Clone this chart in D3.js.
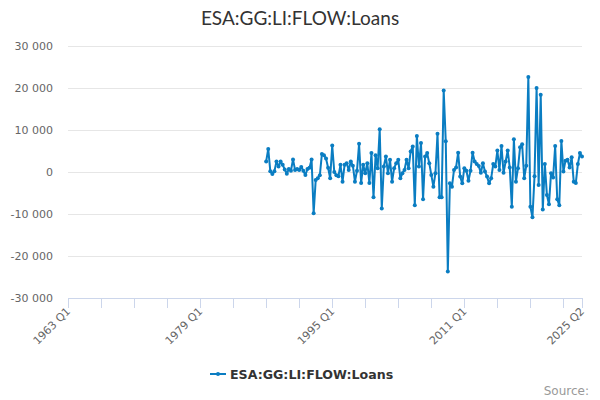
<!DOCTYPE html>
<html>
<head>
<meta charset="utf-8">
<script src="https://cdn.jsdelivr.net/npm/d3@7"></script>
<style>
	body { margin: 0; background: #fff; }
	text { font-family: "DejaVu Sans", sans-serif; }
</style>
</head>
<body>
<svg class="chart"></svg>
<script>

// Quarter axis runs 1963 Q1 .. 2025 Q2, index 0 = 1963 Q1
var lastIndex = 249,
	dataStartIndex = 96; // 1987 Q1

var tickLabels = ["1963 Q1", "1979 Q1", "1995 Q1", "2011 Q1", "2025 Q2"];
var tickLabelIndex = [0, 64, 128, 192, 249];

var yTicks = [-30000, -20000, -10000, 0, 10000, 20000, 30000];

var seriesName = "ESA:GG:LI:FLOW:Loans";

// quarterly flows, 1987 Q1 onward
var loans = [
	2500, 5500, 200, -500, 200, 2500, 1300, 2500,
	1700, 600, -400, 700, 300, 3000, 500, 700,
	500, 1200, 300, -700, 700, 1000, 3000, -9800,
	-1900, -1500, -800, 4300, 4000, 3200, 1000, -1500,
	6300, 0, -800, -1000, 1700, -2300, 1700, 2100,
	500, 2500, 1500, -2300, 300, 6700, -2600, 1700,
	-300, 2100, -2600, 4500, -6000, 4000, 900, 10200,
	-8700, 1300, 3700, -300, 2900, -2300, 900, 2100,
	2900, -1500, -300, 500, 2900, 900, 4900, 6100,
	-7900, 8600, 1300, 6900, -6500, 3700, 4500, 2100,
	-700, -3500, -300, 9100, -6000, -6000, 19400, 7300,
	-23700, -2700, -3500, 500, 1100, 4600, -1100, -2700,
	900, 300, -2100, 300, 4600, 2500, 1900, 1400,
	-200, 2100, 100, -1100, -2700, -1500, 1900, 1300,
	5100, 500, 6200, -200, 2500, 5100, 1100, -8300,
	7800, -2300, 900, 5900, 6600, -1500, 1500, 22600,
	-8300, -10800, -1000, 20000, -3100, 18400, -8900, 1900,
	-5500, -7700, -300, -1300, 6200, -6500, -7900, 7400,
	100, 2700, 2900, 1100, 3500, -2300, -2600, 1900,
	4500, 3700
];

var svgWidth = 600,
	svgHeight = 400;

var chart = d3.select( ".chart" )
	.attr( "width", svgWidth )
	.attr( "height", svgHeight );

var plotLeft = 68,
	plotRight = 582,
	plotTop = 46,
	plotBottom = 298;

var x = d3.scaleLinear().domain( [0, lastIndex] ).range( [plotLeft, plotRight] );
var y = d3.scaleLinear().domain( [-30000, 30000] ).range( [plotBottom, plotTop] );

function fmt( v ) {
	return d3.format( ",d" )( v ).replace( /,/g, " " ).replace( "\u2212", "-" );
}

// title
chart.append( "text" )
	.attr( "x", 300 )
	.attr( "y", 25 )
	.attr( "text-anchor", "middle" )
	.style( "font-family", "Lato, sans-serif" )
	.style( "font-size", "19px" )
	.attr( "fill", "#333333" )
	.text( seriesName );

// grid + y labels
var yAxis = chart.append( "g" );
yAxis.selectAll( "line" )
	.data( yTicks.filter( function(d) { return d !== -30000; } ) )
	.enter()
	.append( "line" )
	.attr( "x1", plotLeft )
	.attr( "x2", plotRight )
	.attr( "y1", function(d) { return Math.round( y(d) ) + 0.5; } )
	.attr( "y2", function(d) { return Math.round( y(d) ) + 0.5; } )
	.attr( "stroke", "#e6e6e6" );

yAxis.selectAll( "text" )
	.data( yTicks )
	.enter()
	.append( "text" )
	.attr( "x", 53 )
	.attr( "y", function(d) { return y(d) + 4; } )
	.attr( "text-anchor", "end" )
	.style( "font-size", "11px" )
	.attr( "fill", "#666666" )
	.text( fmt );

// x axis
var xAxis = chart.append( "g" );
xAxis.append( "line" )
	.attr( "x1", plotLeft )
	.attr( "x2", plotRight )
	.attr( "y1", plotBottom + 0.5 )
	.attr( "y2", plotBottom + 0.5 )
	.attr( "stroke", "#ccd6eb" );

var tickIdx = d3.range( 0, lastIndex, 16 ).concat( [lastIndex] );
xAxis.selectAll( ".tick" )
	.data( tickIdx )
	.enter()
	.append( "line" )
	.classed( "tick", true )
	.attr( "x1", function(d) { return Math.round( x(d) ) + 0.5; } )
	.attr( "x2", function(d) { return Math.round( x(d) ) + 0.5; } )
	.attr( "y1", plotBottom )
	.attr( "y2", plotBottom + 10 )
	.attr( "stroke", "#ccd6eb" );

xAxis.selectAll( ".lbl" )
	.data( tickLabels )
	.enter()
	.append( "text" )
	.classed( "lbl", true )
	.attr( "transform", function(d, i) {
		return "translate(" + ( x( tickLabelIndex[i] ) + 3 ) + "," + ( plotBottom + 14 ) + ") rotate(-45)";
	} )
	.attr( "text-anchor", "end" )
	.style( "font-size", "11px" )
	.attr( "fill", "#666666" )
	.text( function(d) { return d; } );

// series
var points = loans.map( function(v, i) { return { idx: dataStartIndex + i, value: v }; } );
var color = "#0a7dc2";

var line = d3.line()
	.x( function(d) { return x(d.idx); } )
	.y( function(d) { return y(d.value); } );

chart.append( "path" )
	.datum( points )
	.attr( "d", line )
	.attr( "fill", "none" )
	.attr( "stroke", color )
	.attr( "stroke-width", 2 )
	.attr( "stroke-linejoin", "round" );

chart.selectAll( ".dot" )
	.data( points )
	.enter()
	.append( "circle" )
	.classed( "dot", true )
	.attr( "cx", function(d) { return x(d.idx); } )
	.attr( "cy", function(d) { return y(d.value); } )
	.attr( "r", 2 )
	.attr( "fill", color );

// legend
var legend = chart.append( "g" ).attr( "transform", "translate(210,374)" );
legend.append( "line" )
	.attr( "x1", 0 ).attr( "x2", 16 )
	.attr( "y1", 0 ).attr( "y2", 0 )
	.attr( "stroke", color )
	.attr( "stroke-width", 2 );
legend.append( "circle" )
	.attr( "cx", 8 ).attr( "cy", 0 ).attr( "r", 2 )
	.attr( "fill", color );
legend.append( "text" )
	.attr( "x", 20 )
	.attr( "y", 4.5 )
	.style( "font-size", "12.6px" )
	.style( "font-weight", "bold" )
	.attr( "fill", "#333333" )
	.text( seriesName );

// credits
chart.append( "text" )
	.attr( "x", 589 )
	.attr( "y", 395 )
	.attr( "text-anchor", "end" )
	.style( "font-size", "12px" )
	.attr( "fill", "#999999" )
	.text( "Source:" );

</script>
</body>
</html>
